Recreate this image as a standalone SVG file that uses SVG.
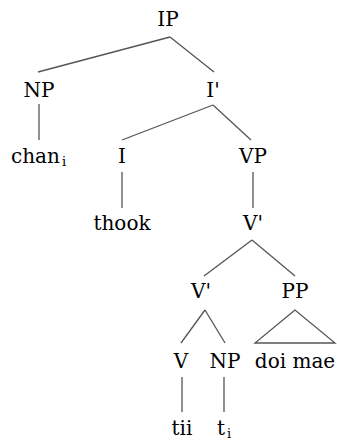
<svg xmlns="http://www.w3.org/2000/svg" width="337" height="441" viewBox="0 0 337 441">
<style>
text{font-family:"DejaVu Serif",serif;font-size:20px;fill:#000;text-anchor:middle}
.sub{font-size:13px}
.e{stroke:#555;stroke-width:1.3;fill:none}
</style>
<rect width="337" height="441" fill="#fff"/>
<g id="edges">
<line class="e" x1="170" y1="37" x2="38" y2="72"/>
<line class="e" x1="170" y1="37" x2="214" y2="72"/>
<line class="e" x1="39" y1="104" x2="39" y2="140"/>
<line class="e" x1="213" y1="105" x2="122" y2="140"/>
<line class="e" x1="213" y1="105" x2="251" y2="140"/>
<line class="e" x1="122" y1="172" x2="122" y2="208"/>
<line class="e" x1="253" y1="172" x2="253" y2="208"/>
<line class="e" x1="252" y1="240" x2="204" y2="276"/>
<line class="e" x1="252" y1="240" x2="295" y2="276"/>
<line class="e" x1="205" y1="310" x2="181" y2="343"/>
<line class="e" x1="205" y1="310" x2="225" y2="343"/>
<polygon class="e" points="295,310 255,343 335,343"/>
<line class="e" x1="182" y1="377" x2="182" y2="412"/>
<line class="e" x1="224" y1="377" x2="224" y2="412"/>
</g>
<g id="IP"><text x="168" y="26">IP</text></g>
<g id="NP1"><text x="39" y="97">NP</text></g>
<g id="Ibar"><text x="213" y="97">I'</text></g>
<g id="chan"><text x="11" y="163" style="text-anchor:start">chan<tspan class="sub" dy="3" dx="2">i</tspan></text></g>
<g id="I"><text x="122" y="163">I</text></g>
<g id="VP"><text x="253" y="163">VP</text></g>
<g id="thook"><text x="122" y="230">thook</text></g>
<g id="Vbar1"><text x="253" y="230">V'</text></g>
<g id="Vbar2"><text x="201" y="298">V'</text></g>
<g id="PP"><text x="295" y="298">PP</text></g>
<g id="V"><text x="181" y="368">V</text></g>
<g id="NP2"><text x="225" y="368">NP</text></g>
<g id="doimae"><text x="295" y="368">doi mae</text></g>
<g id="tii"><text x="182" y="435">tii</text></g>
<g id="ti"><text x="217" y="435" style="text-anchor:start">t<tspan class="sub" dy="3" dx="2">i</tspan></text></g>
</svg>
